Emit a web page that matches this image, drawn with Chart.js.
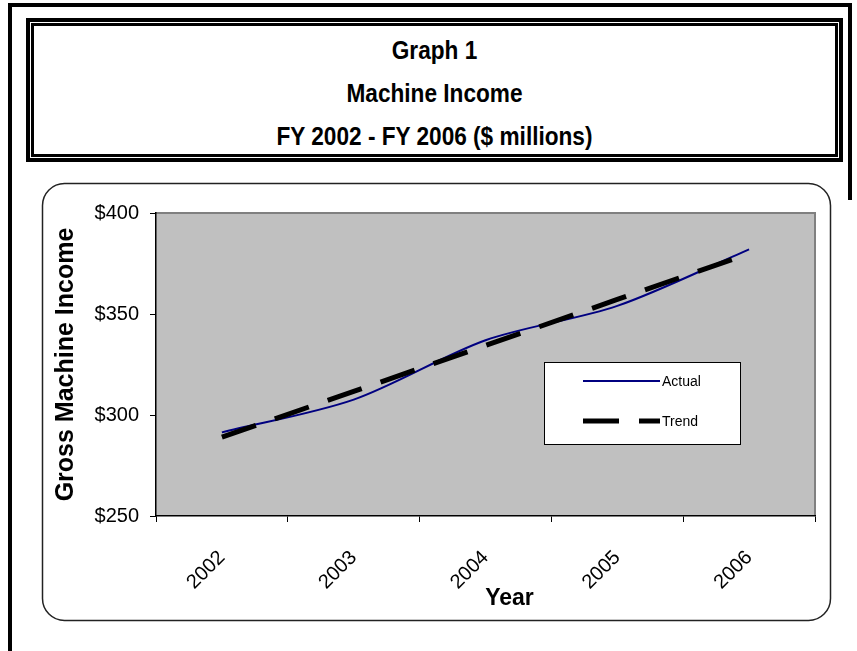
<!DOCTYPE html>
<html>
<head>
<meta charset="utf-8">
<script src="https://cdn.jsdelivr.net/npm/chart.js@4.4.1/dist/chart.umd.min.js"></script>
<style>
  html, body { margin: 0; padding: 0; background: #fff; }
  body { width: 857px; height: 651px; position: relative; overflow: hidden; font-family: "Liberation Sans", Arial, sans-serif; }
  #frame { position: absolute; left: 8px; top: 3px; width: 844px; height: 660px; border-left: 4px solid #000; border-top: 4px solid #000; box-sizing: border-box; }
  #frameRight { position: absolute; left: 848px; top: 3px; width: 4px; height: 197px; background: #000; }
  #titleOuter { position: absolute; left: 26px; top: 18px; width: 817px; height: 144px; border: 4px solid #000; box-sizing: border-box; }
  #titleInner { position: absolute; left: 1px; top: 1px; right: 1px; bottom: 1px; border: 3px solid #000; }
  #titleText { position: absolute; left: 0; right: 0; top: 7px; text-align: center; font-weight: bold; font-size: 26px; line-height: 43px; color: #000; transform: scaleX(0.87); transform-origin: 50% 50%; }
  #chartCanvas { position: absolute; left: 0; top: 0; }
</style>
</head>
<body>
<div id="frame"></div>
<div id="frameRight"></div>
<div id="titleOuter"><div id="titleInner"></div>
  <div id="titleText">Graph 1<br>Machine Income<br>FY 2002 - FY 2006 ($ millions)</div>
</div>
<canvas id="chartCanvas" width="857" height="651"></canvas>
<script>
// Gross machine income, fiscal years 2002-2006 ($ millions)
const years = ['2002', '2003', '2004', '2005', '2006'];
const actualIncome = [291.4, 307.6, 337.0, 354.0, 382.0];
const trendIncome = [289.0, 311.7, 334.4, 357.2, 379.9];
const yTickValues = [250, 300, 350, 400];

const FONT = '"Liberation Sans", Arial, sans-serif';

// Rounded panel behind the plot plus grey plot background
const panelPlugin = {
  id: 'panel',
  beforeDraw(chart) {
    const ctx = chart.ctx;
    const a = chart.chartArea;
    ctx.save();
    const x0 = 42.5, y0 = 183.5, x1 = 830.5, y1 = 620.5, r = 22;
    ctx.beginPath();
    ctx.moveTo(x0 + r, y0);
    ctx.lineTo(x1 - r, y0);
    ctx.arcTo(x1, y0, x1, y0 + r, r);
    ctx.lineTo(x1, y1 - r);
    ctx.arcTo(x1, y1, x1 - r, y1, r);
    ctx.lineTo(x0 + r, y1);
    ctx.arcTo(x0, y1, x0, y1 - r, r);
    ctx.lineTo(x0, y0 + r);
    ctx.arcTo(x0, y0, x0 + r, y0, r);
    ctx.closePath();
    ctx.lineWidth = 1.5;
    ctx.strokeStyle = '#222';
    ctx.stroke();
    ctx.fillStyle = '#C0C0C0';
    ctx.fillRect(a.left, a.top, a.right - a.left, a.bottom - a.top);
    ctx.strokeStyle = '#808080';
    ctx.lineWidth = 2;
    ctx.beginPath();
    ctx.moveTo(a.left, a.top);
    ctx.lineTo(a.right, a.top);
    ctx.lineTo(a.right, a.bottom);
    ctx.stroke();
    ctx.restore();
  }
};

// Boxed legend inside the plot area, and the x-axis title set right of centre
const boxLegendPlugin = {
  id: 'boxLegend',
  afterDraw(chart) {
    const ctx = chart.ctx;
    const a = chart.chartArea;
    const bx = 544.5, by = 362.5, bw = 196, bh = 82;
    ctx.save();
    ctx.fillStyle = '#fff';
    ctx.fillRect(bx, by, bw, bh);
    ctx.strokeStyle = '#000';
    ctx.lineWidth = 1;
    ctx.strokeRect(bx, by, bw, bh);
    const rows = [381, 421];
    chart.data.datasets.forEach((ds, i) => {
      const y = rows[i];
      ctx.beginPath();
      ctx.setLineDash(ds.borderDash || []);
      ctx.lineCap = 'butt';
      ctx.strokeStyle = ds.borderColor;
      ctx.lineWidth = ds.borderWidth;
      ctx.moveTo(583, y);
      ctx.lineTo(660, y);
      ctx.stroke();
      ctx.setLineDash([]);
      ctx.fillStyle = '#000';
      ctx.font = '14px ' + FONT;
      ctx.textBaseline = 'middle';
      ctx.textAlign = 'left';
      ctx.fillText(ds.label, 662, y + 1);
    });
    ctx.font = 'bold 23px ' + FONT;
    ctx.textAlign = 'center';
    ctx.textBaseline = 'middle';
    ctx.fillText('Year', (a.left + a.right) / 2 + 24, 599);
    ctx.restore();
  }
};

new Chart(document.getElementById('chartCanvas'), {
  type: 'line',
  data: {
    labels: years,
    datasets: [
      {
        label: 'Actual',
        data: actualIncome,
        borderColor: '#000080',
        borderWidth: 2,
        pointRadius: 0,
        tension: 0.3,
        fill: false,
        order: 1
      },
      {
        label: 'Trend',
        data: trendIncome,
        borderColor: '#000000',
        borderWidth: 5,
        borderDash: [36, 20],
        borderCapStyle: 'butt',
        pointRadius: 0,
        tension: 0,
        fill: false,
        order: 0
      }
    ]
  },
  options: {
    responsive: false,
    animation: false,
    events: [],
    layout: { padding: { left: 48, top: 213, right: 42, bottom: 37 } },
    plugins: {
      legend: { display: false },
      tooltip: { enabled: false },
      title: { display: false }
    },
    scales: {
      x: {
        offset: true,
        grid: { offset: true, drawOnChartArea: false, color: '#000', tickLength: 6, lineWidth: 1 },
        border: { color: '#000', width: 1.5 },
        ticks: {
          minRotation: 45, maxRotation: 45, autoSkip: false,
          color: '#000', padding: 24,
          font: { family: FONT, size: 20 }
        },
        title: { display: false },
        afterFit(scale) { scale.height = 98; }
      },
      y: {
        min: 250, max: 400,
        afterBuildTicks(scale) { scale.ticks = yTickValues.map(v => ({ value: v })); },
        grid: { drawOnChartArea: false, color: '#000', tickLength: 6, lineWidth: 1 },
        border: { color: '#000', width: 1.5 },
        ticks: {
          color: '#000', padding: 11,
          font: { family: FONT, size: 20 },
          callback: v => '$' + v
        },
        title: {
          display: true, text: 'Gross Machine Income', color: '#000',
          font: { family: FONT, size: 25, weight: 'bold' },
          padding: { top: 3, bottom: 4 }
        },
        afterFit(scale) { scale.width = 108; }
      }
    }
  },
  plugins: [panelPlugin, boxLegendPlugin]
});
</script>
</body>
</html>
